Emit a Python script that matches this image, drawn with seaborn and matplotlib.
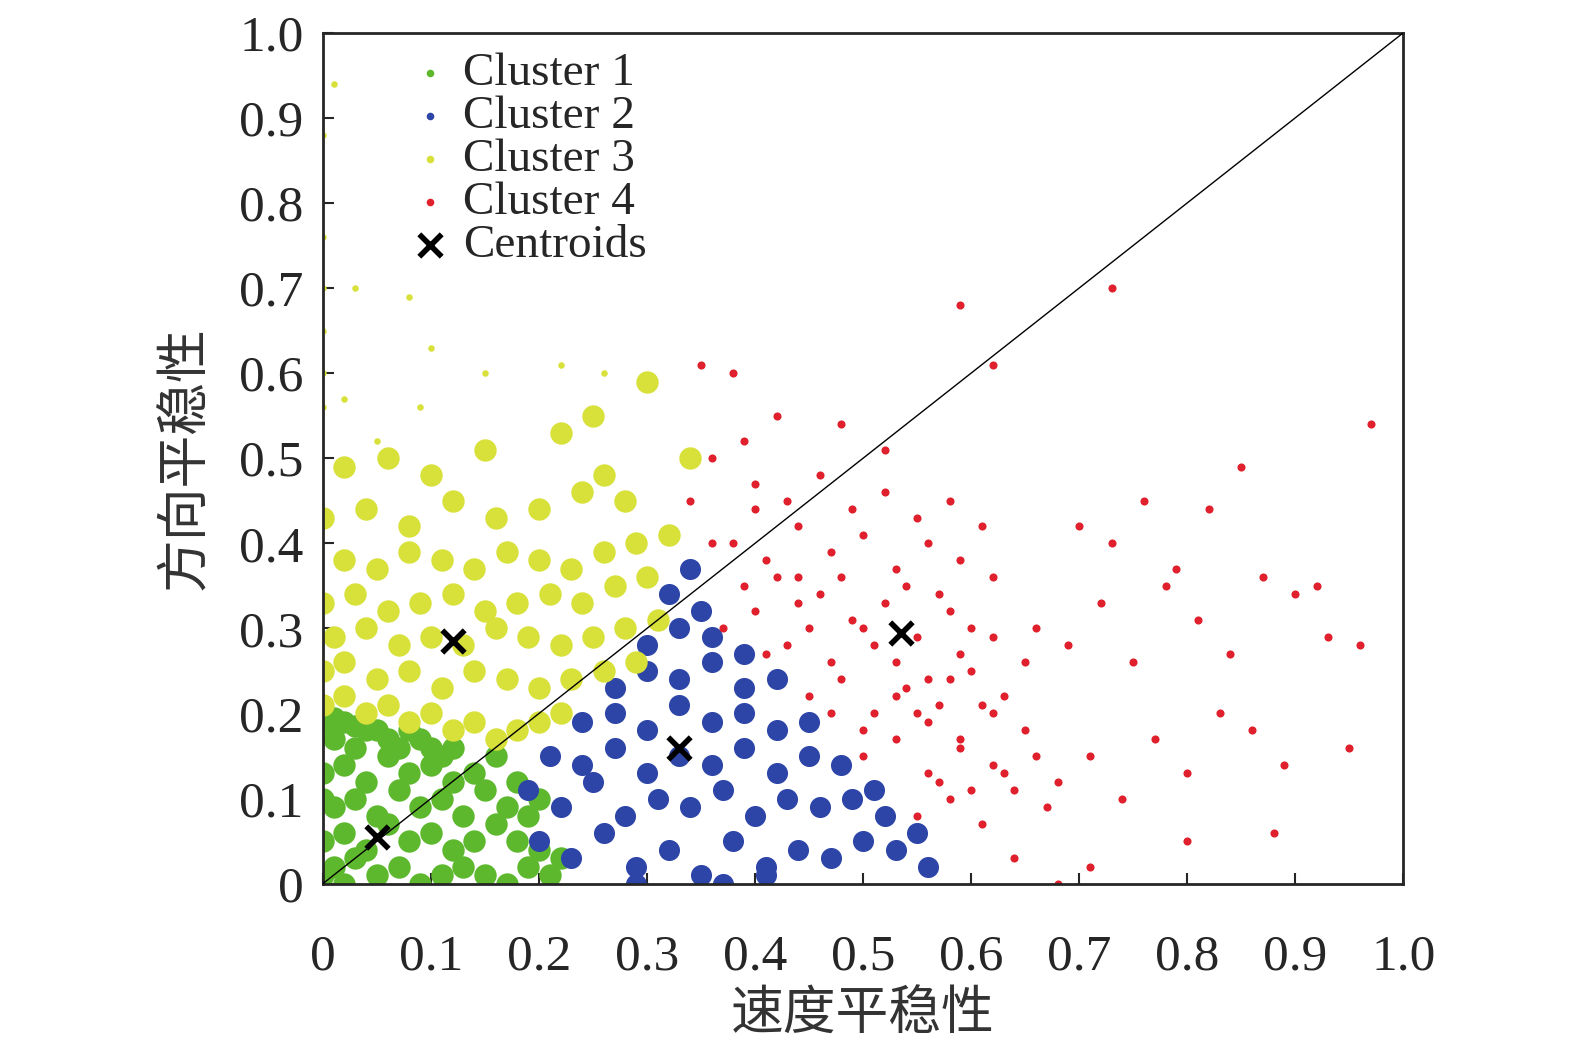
import matplotlib
matplotlib.use("Agg")
import matplotlib.pyplot as plt
import seaborn as sns
import pandas as pd

c1_x = [0.00, 0.01, 0.02, 0.03, 0.05, 0.07, 0.09, 0.11, 0.13, 0.15, 0.17, 0.19, 0.21,
        0.00, 0.02, 0.04, 0.06, 0.08, 0.10, 0.12, 0.14, 0.16, 0.18, 0.20,
        0.01, 0.03, 0.05, 0.07, 0.09, 0.11, 0.13, 0.15, 0.17,
        0.00, 0.02, 0.04, 0.06, 0.08, 0.10, 0.12, 0.14,
        0.01, 0.03, 0.05, 0.07, 0.09, 0.11, 0.00, 0.02, 0.04, 0.06, 0.08, 0.10, 0.12, 0.16,
        0.19, 0.22, 0.20, 0.18, 0.01, 0.03, 0.00]
c1_y = [0.01, 0.02, 0.00, 0.03, 0.01, 0.02, 0.00, 0.01, 0.02, 0.01, 0.00, 0.02, 0.01,
        0.05, 0.06, 0.04, 0.07, 0.05, 0.06, 0.04, 0.05, 0.07, 0.05, 0.04,
        0.09, 0.10, 0.08, 0.11, 0.09, 0.10, 0.08, 0.11, 0.09,
        0.13, 0.14, 0.12, 0.15, 0.13, 0.14, 0.12, 0.13,
        0.17, 0.16, 0.18, 0.16, 0.17, 0.15, 0.19, 0.19, 0.18, 0.17, 0.18, 0.16, 0.16, 0.15,
        0.08, 0.03, 0.10, 0.12, 0.195, 0.185, 0.10]
c2_x = [0.20, 0.23, 0.26, 0.29, 0.32, 0.35, 0.38, 0.41, 0.44, 0.47, 0.50, 0.53,
        0.19, 0.22, 0.25, 0.28, 0.31, 0.34, 0.37, 0.40, 0.43, 0.46, 0.49, 0.52,
        0.21, 0.24, 0.27, 0.30, 0.33, 0.36, 0.39, 0.42, 0.45, 0.48,
        0.24, 0.27, 0.30, 0.33, 0.36, 0.39, 0.42, 0.45,
        0.27, 0.30, 0.33, 0.36, 0.39, 0.42, 0.30, 0.33, 0.36, 0.39,
        0.32, 0.35, 0.34, 0.55, 0.56, 0.51, 0.29, 0.37, 0.41]
c2_y = [0.05, 0.03, 0.06, 0.02, 0.04, 0.01, 0.05, 0.02, 0.04, 0.03, 0.05, 0.04,
        0.11, 0.09, 0.12, 0.08, 0.10, 0.09, 0.11, 0.08, 0.10, 0.09, 0.10, 0.08,
        0.15, 0.14, 0.16, 0.13, 0.15, 0.14, 0.16, 0.13, 0.15, 0.14,
        0.19, 0.20, 0.18, 0.21, 0.19, 0.20, 0.18, 0.19,
        0.23, 0.25, 0.24, 0.26, 0.23, 0.24, 0.28, 0.30, 0.29, 0.27,
        0.34, 0.32, 0.37, 0.06, 0.02, 0.11, 0.00, 0.00, 0.01]
c3_x = [0.00, 0.02, 0.04, 0.06, 0.08, 0.10, 0.12, 0.14, 0.16, 0.18, 0.20, 0.22,
        0.00, 0.02, 0.05, 0.08, 0.11, 0.14, 0.17, 0.20, 0.23, 0.26, 0.29,
        0.01, 0.04, 0.07, 0.10, 0.13, 0.16, 0.19, 0.22, 0.25, 0.28, 0.31,
        0.00, 0.03, 0.06, 0.09, 0.12, 0.15, 0.18, 0.21, 0.24, 0.27, 0.30,
        0.02, 0.05, 0.08, 0.11, 0.14, 0.17, 0.20, 0.23, 0.26, 0.29, 0.32,
        0.00, 0.04, 0.08, 0.12, 0.16, 0.20, 0.24, 0.28,
        0.02, 0.06, 0.10, 0.15, 0.22, 0.26, 0.30, 0.34, 0.25]
c3_y = [0.21, 0.22, 0.20, 0.21, 0.19, 0.20, 0.18, 0.19, 0.17, 0.18, 0.19, 0.20,
        0.25, 0.26, 0.24, 0.25, 0.23, 0.25, 0.24, 0.23, 0.24, 0.25, 0.26,
        0.29, 0.30, 0.28, 0.29, 0.28, 0.30, 0.29, 0.28, 0.29, 0.30, 0.31,
        0.33, 0.34, 0.32, 0.33, 0.34, 0.32, 0.33, 0.34, 0.33, 0.35, 0.36,
        0.38, 0.37, 0.39, 0.38, 0.37, 0.39, 0.38, 0.37, 0.39, 0.40, 0.41,
        0.43, 0.44, 0.42, 0.45, 0.43, 0.44, 0.46, 0.45,
        0.49, 0.50, 0.48, 0.51, 0.53, 0.48, 0.59, 0.50, 0.55]
# sparse yellow outliers near the top left
c3o_x = [0.00, 0.00, 0.03, 0.08, 0.10, 0.00, 0.00, 0.01, 0.00, 0.00, 0.09, 0.15,
         0.22, 0.26, 0.05, 0.02]
c3o_y = [0.60, 0.70, 0.70, 0.69, 0.63, 0.76, 0.88, 0.94, 0.65, 0.56, 0.56, 0.60,
         0.61, 0.60, 0.52, 0.57]
c4_x = [0.37, 0.40, 0.43, 0.46, 0.49, 0.52, 0.55, 0.58, 0.38, 0.41, 0.44, 0.47, 0.50,
        0.53, 0.56, 0.59, 0.62, 0.40, 0.43, 0.46, 0.49, 0.52, 0.55, 0.58, 0.61,
        0.45, 0.48, 0.51, 0.54, 0.57, 0.60, 0.63, 0.50, 0.53, 0.56, 0.59, 0.62, 0.65,
        0.55, 0.58, 0.61, 0.64, 0.67, 0.34, 0.36, 0.39, 0.42, 0.35, 0.38, 0.48, 0.52,
        0.66, 0.69, 0.72, 0.75, 0.78, 0.81, 0.84, 0.87, 0.90, 0.93, 0.96,
        0.68, 0.71, 0.74, 0.77, 0.80, 0.83, 0.86, 0.89, 0.70, 0.73, 0.76, 0.79, 0.82,
        0.85, 0.92, 0.95, 0.97, 0.73, 0.59, 0.62, 0.80, 0.88, 0.64, 0.68, 0.71,
        0.39, 0.42, 0.45, 0.48, 0.51, 0.54, 0.57, 0.60, 0.41, 0.44, 0.47, 0.50,
        0.53, 0.56, 0.59, 0.62, 0.65, 0.47, 0.50, 0.53, 0.56, 0.59, 0.62, 0.36,
        0.40, 0.44, 0.57, 0.60, 0.63, 0.66, 0.55, 0.58, 0.61]
c4_y = [0.30, 0.32, 0.28, 0.34, 0.31, 0.33, 0.29, 0.32, 0.40, 0.38, 0.42, 0.39, 0.41,
        0.37, 0.40, 0.38, 0.36, 0.47, 0.45, 0.48, 0.44, 0.46, 0.43, 0.45, 0.42,
        0.22, 0.24, 0.20, 0.23, 0.21, 0.25, 0.22, 0.15, 0.17, 0.13, 0.16, 0.14, 0.18,
        0.08, 0.10, 0.07, 0.11, 0.09, 0.45, 0.50, 0.52, 0.55, 0.61, 0.60, 0.54, 0.51,
        0.30, 0.28, 0.33, 0.26, 0.35, 0.31, 0.27, 0.36, 0.34, 0.29, 0.28,
        0.12, 0.15, 0.10, 0.17, 0.13, 0.20, 0.18, 0.14, 0.42, 0.40, 0.45, 0.37, 0.44,
        0.49, 0.35, 0.16, 0.54, 0.70, 0.68, 0.61, 0.05, 0.06, 0.03, 0.00, 0.02,
        0.35, 0.36, 0.30, 0.36, 0.28, 0.35, 0.34, 0.30, 0.27, 0.33, 0.26, 0.30,
        0.26, 0.24, 0.27, 0.29, 0.26, 0.20, 0.18, 0.22, 0.19, 0.17, 0.20, 0.40,
        0.44, 0.36, 0.12, 0.11, 0.13, 0.15, 0.20, 0.24, 0.21]
cent_x = [0.05, 0.12, 0.33, 0.535]
cent_y = [0.055, 0.285, 0.16, 0.295]

sns.set_style("ticks")
plt.rcParams["font.family"] = ["Liberation Serif", "Noto Sans CJK SC"]

rows = []
for name, xs, ys in [("Cluster 1", c1_x, c1_y), ("Cluster 2", c2_x, c2_y),
                     ("Cluster 3", c3_x, c3_y), ("Cluster 4", c4_x, c4_y)]:
    for a, b in zip(xs, ys):
        rows.append((a, b, name))
df = pd.DataFrame(rows, columns=["x", "y", "cluster"])

palette = {"Cluster 1": "#5db82e", "Cluster 2": "#2e45a8",
           "Cluster 3": "#d8e03a", "Cluster 4": "#e0202c"}
sizes = {"Cluster 1": 260, "Cluster 2": 230, "Cluster 3": 260, "Cluster 4": 34}

fig = plt.figure(figsize=(15.75, 10.57), dpi=100)
ax = fig.add_axes([0.205, 0.164, 0.686, 0.805])
for name in palette:
    sub = df[df["cluster"] == name]
    sns.scatterplot(data=sub, x="x", y="y", color=palette[name], s=sizes[name],
                    linewidth=0, ax=ax, label=name, zorder=2)
ax.scatter(c3o_x, c3o_y, s=22, color=palette["Cluster 3"], linewidths=0, zorder=2)
ax.plot([0, 1], [0, 1], color="black", lw=1, zorder=3)
ax.scatter(cent_x, cent_y, marker="x", s=260, color="black", linewidths=4,
           zorder=4, label="Centroids")

ax.set_xlim(0, 1)
ax.set_ylim(0, 1)
ticks = [0, 0.1, 0.2, 0.3, 0.4, 0.5, 0.6, 0.7, 0.8, 0.9, 1.0]
labels = ["0", "0.1", "0.2", "0.3", "0.4", "0.5", "0.6", "0.7", "0.8", "0.9", "1.0"]
ax.set_xticks(ticks, labels)
ax.set_yticks(ticks, labels)
ax.tick_params(direction="in", labelsize=37, length=8, width=1.5, pad=14)
ax.tick_params(axis="x", pad=36)
for sp in ax.spines.values():
    sp.set_linewidth(2)
ax.set_xlabel("速度平稳性", fontsize=38, color="#333333", labelpad=8)
ax.set_ylabel("方向平稳性", fontsize=38, color="#333333", labelpad=20)

h, l = ax.get_legend_handles_labels()
leg = ax.legend(h, l, loc="upper left", bbox_to_anchor=(0.06, 1.005), frameon=False,
                fontsize=34, handletextpad=0.3, labelspacing=0.0, borderpad=0.3,
                handlelength=0.8, borderaxespad=0.2)
for hd in leg.legend_handles[:4]:
    hd.set_sizes([30])
leg.legend_handles[4].set_sizes([260])

fig.savefig("out.png", dpi=100)
